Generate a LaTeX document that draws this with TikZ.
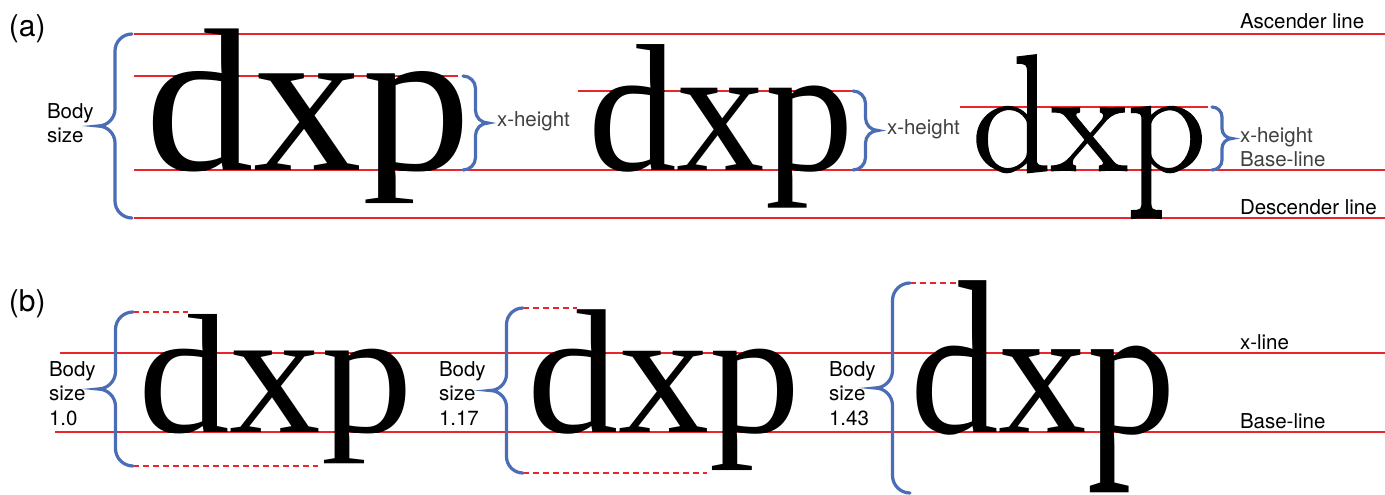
\documentclass[tikz,border=0pt]{standalone}
\usepackage{graphicx}
\usepackage{fontspec}
\newfontfamily\serifA{Liberation Serif}
\newfontfamily\serifB[FakeBold=1.1]{Latin Modern Roman}
\newfontfamily\lab{TeX Gyre Heros}
\definecolor{lred}{HTML}{E8262C}
\definecolor{bblue}{HTML}{4A6DB5}
\tikzset{
  redline/.style={draw=lred, line width=1.8pt},
  reddash/.style={draw=lred, line width=1.6pt, dash pattern=on 6pt off 4pt},
  bracepath/.style={draw=bblue, line width=3.2pt, line cap=round},
  lbl/.style={font=\lab\fontsize{20.5}{24}\selectfont, inner sep=0pt, outer sep=0pt, anchor=base west},
  lbllight/.style={lbl, text=black!75},
  glyph/.style={inner sep=0pt, outer sep=0pt, anchor=base west},
}
% #1 name, #2 x, #3 baseline y, #4 x-line y, #5 font, #6 stretch up, #7 stretch down, #8 xscale
\newcommand\dxpword[8]{%
  \begin{scope}
    \clip ({#2-40},#4) rectangle ({#2+420},#3);
    \node[glyph] (#1) at (#2,#3) {\scalebox{#8}[1]{#5dxp}};
  \end{scope}
  \begin{scope}
    \clip ({#2-40},{#4+0.7}) rectangle ({#2+420},{#4-250});
    \begin{scope}[yshift=-#4pt, yscale=#6, yshift=#4pt]
      \node[glyph, transform shape] (#1u) at (#2,#3) {\scalebox{#8}[1]{#5dxp}};
    \end{scope}
  \end{scope}
  \begin{scope}
    \clip ({#2-40},{#3-0.7}) rectangle ({#2+420},{#3+250});
    \begin{scope}[yshift=-#3pt, yscale=#7, yshift=#3pt]
      \node[glyph, transform shape] (#1d) at (#2,#3) {\scalebox{#8}[1]{#5dxp}};
    \end{scope}
  \end{scope}
}
% opening brace (tip left): #1 end x, #2 top y, #3 bottom y, #4 radius
\newcommand\obrace[4]{%
  \draw[bracepath] (#1,#2)
    .. controls ({#1-0.552*#4},#2) and ({#1-#4},{#2+0.448*#4}) .. ({#1-#4},{#2+#4})
    -- ({#1-#4},{(#2+#3)/2-#4})
    .. controls ({#1-#4},{(#2+#3)/2-0.45*#4}) and ({#1-1.45*#4},{(#2+#3)/2}) .. ({#1-2*#4},{(#2+#3)/2})
    .. controls ({#1-1.45*#4},{(#2+#3)/2}) and ({#1-#4},{(#2+#3)/2+0.45*#4}) .. ({#1-#4},{(#2+#3)/2+#4})
    -- ({#1-#4},{#3-#4})
    .. controls ({#1-#4},{#3-0.448*#4}) and ({#1-0.552*#4},#3) .. (#1,#3);
}
% closing brace (tip right)
\newcommand\cbrace[4]{%
  \draw[bracepath] (#1,#2)
    .. controls ({#1+0.552*#4},#2) and ({#1+#4},{#2+0.448*#4}) .. ({#1+#4},{#2+#4})
    -- ({#1+#4},{(#2+#3)/2-#4})
    .. controls ({#1+#4},{(#2+#3)/2-0.45*#4}) and ({#1+1.45*#4},{(#2+#3)/2}) .. ({#1+2*#4},{(#2+#3)/2})
    .. controls ({#1+1.45*#4},{(#2+#3)/2}) and ({#1+#4},{(#2+#3)/2+0.45*#4}) .. ({#1+#4},{(#2+#3)/2+#4})
    -- ({#1+#4},{#3-#4})
    .. controls ({#1+#4},{#3-0.448*#4}) and ({#1+0.552*#4},#3) .. (#1,#3);
}
\begin{document}
\begin{tikzpicture}[x=1pt, y=-1pt]
\fill[white] (0,0) rectangle (1385,495);
\useasboundingbox (0,0) rectangle (1385,495);

% ---------------- (a) ----------------
\draw[redline] (134,34) -- (1385,34);
\draw[redline] (134,76) -- (458,76);
\draw[redline] (578,91) -- (852,91);
\draw[redline] (960,107) -- (1208,107);
\draw[redline] (134,170) -- (1385,170);
\draw[redline] (134,218) -- (1385,218);

\dxpword{a1}{145}{170}{76}{\serifA\fontsize{210}{210}\selectfont}{0.91}{0.74}{1.035}
\dxpword{a2}{588}{170}{91}{\serifA\fontsize{177}{177}\selectfont}{1.05}{1.0}{1.0}
\dxpword{a3}{972}{170}{107}{\serifB\fontsize{144}{144}\selectfont}{1.4}{1.7}{1.08}

\obrace{132}{34}{218}{17}
\cbrace{463}{76}{170}{12.5}
\cbrace{853}{91}{170}{12.5}
\cbrace{1212}{107}{170}{10}

\node[lbl, font=\lab\fontsize{30}{30}\selectfont] (la) at (9,37) {(a)};
\node[lbl] (abody) at (47,118) {Body};
\node[lbl] (asize) at (47,142) {size};
\node[lbllight] (ax1) at (497,126) {x-height};
\node[lbllight] (ax2) at (887,135) {x-height};
\node[lbllight] (ax3) at (1240,142) {x-height};
\node[lbllight] (abase) at (1240,166) {Base-line};
\node[lbl] (aasc) at (1240,29) {Ascender line};
\node[lbl] (adesc) at (1240,214) {Descender line};

% ---------------- (b) ----------------
\draw[redline] (60,353) -- (1385,353);
\draw[redline] (55,432) -- (1385,432);

\draw[reddash] (133,312) -- (188,312);
\draw[reddash] (133,466) -- (318,466);
\draw[reddash] (523,308) -- (577,308);
\draw[reddash] (523,473) -- (707,473);
\draw[reddash] (910,283) -- (964,283);

\dxpword{b1}{138}{432}{353}{\serifA\fontsize{177}{177}\selectfont}{0.88}{0.83}{1.035}
\dxpword{b2}{527}{432}{353}{\serifA\fontsize{177}{177}\selectfont}{1.0}{1.01}{1.03}
\dxpword{b3}{910}{432}{353}{\serifA\fontsize{177}{177}\selectfont}{1.66}{1.6}{1.0}

\obrace{133}{312}{466}{17.5}
\obrace{523}{308}{473}{16.5}
\obrace{910}{283}{493}{17.5}

\node[lbl, font=\lab\fontsize{30}{30}\selectfont] (lb) at (9,311) {(b)};
\node[lbl] (b1a) at (49,376) {Body};
\node[lbl] (b1b) at (49,400) {size};
\node[lbl] (b1c) at (49,425) {1.0};
\node[lbl] (b2a) at (439,376) {Body};
\node[lbl] (b2b) at (439,400) {size};
\node[lbl] (b2c) at (439,425) {1.17};
\node[lbl] (b3a) at (829,376) {Body};
\node[lbl] (b3b) at (829,400) {size};
\node[lbl] (b3c) at (829,425) {1.43};
\node[lbl] (bx) at (1240,349) {x-line};
\node[lbl] (bbase) at (1240,428) {Base-line};
\end{tikzpicture}
\end{document}
